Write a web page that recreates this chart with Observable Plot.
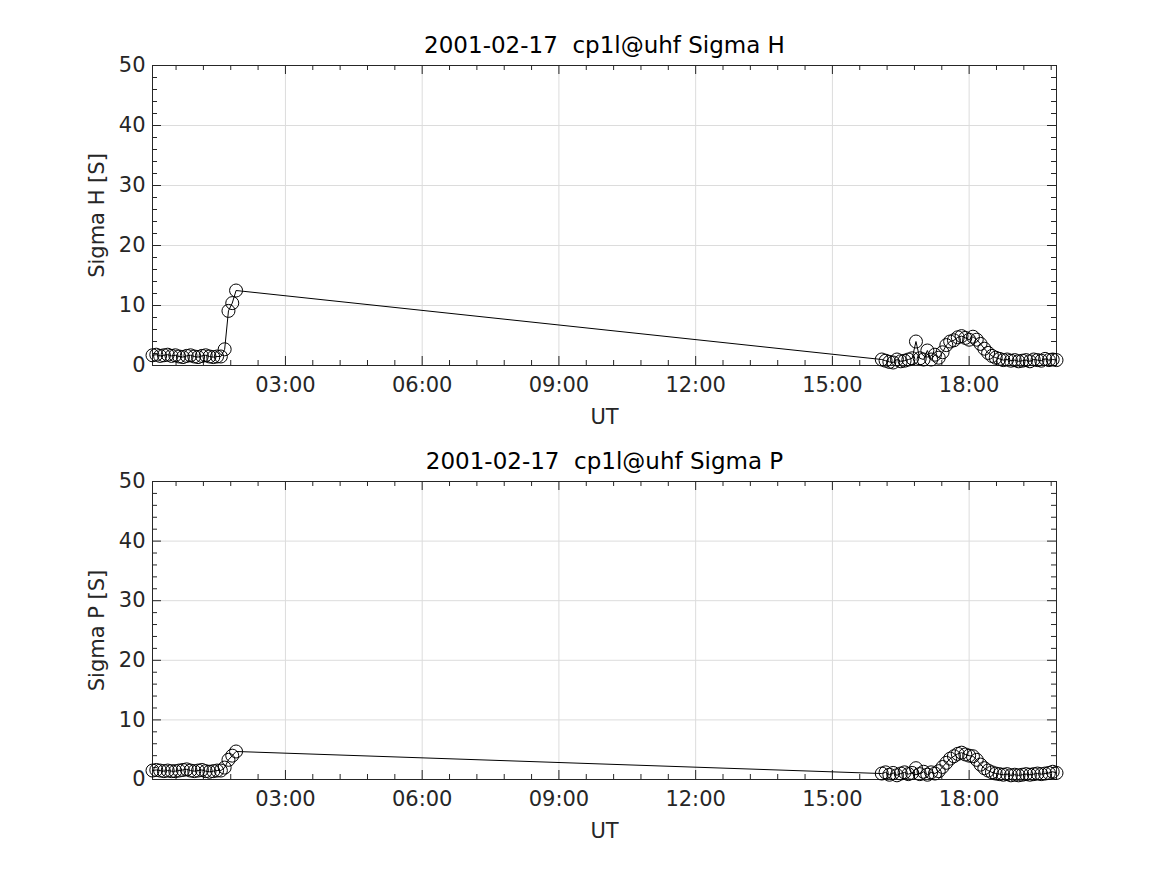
<!DOCTYPE html>
<html><head><meta charset="utf-8">
<script src="https://cdn.jsdelivr.net/npm/d3@7"></script>
<script src="https://cdn.jsdelivr.net/npm/@observablehq/plot@0.6"></script>
<style>body{margin:0;background:#fff;} #chart svg{display:block;}</style>
</head><body><div id="chart"></div>
<script>
// ---- data ----
const times = [
  "00:05","00:10","00:15","00:20","00:25","00:30","00:35","00:40","00:45","00:50","00:55","01:00",
  "01:05","01:10","01:15","01:20","01:25","01:30","01:35","01:40","01:45","01:50","01:55",
  "16:05","16:10","16:15","16:20","16:25","16:30","16:35","16:40","16:45","16:50","16:55","17:00",
  "17:05","17:10","17:15","17:20","17:25","17:30","17:35","17:40","17:45","17:50","17:55","18:00",
  "18:05","18:10","18:15","18:20","18:25","18:30","18:35","18:40","18:45","18:50","18:55","19:00",
  "19:05","19:10","19:15","19:20","19:25","19:30","19:35","19:40","19:45","19:50","19:55"
];
const sigmaH = [
  1.7,1.8,1.6,1.7,1.8,1.6,1.7,1.5,1.4,1.6,1.7,1.5,
  1.4,1.6,1.7,1.5,1.4,1.5,1.5,2.7,9.1,10.4,12.5,
  1.0,0.8,0.6,0.5,1.0,0.7,0.8,1.0,1.2,4.0,1.2,1.0,
  2.5,1.0,1.8,1.3,2.2,3.4,4.0,4.2,4.7,4.9,4.6,4.3,
  4.8,4.3,3.6,2.8,2.1,1.6,1.3,1.1,0.9,1.0,0.8,0.9,
  0.7,0.8,0.9,0.7,1.0,0.9,0.8,1.1,0.9,1.0,0.9
];
const sigmaP = [
  1.5,1.6,1.5,1.4,1.5,1.4,1.4,1.5,1.6,1.7,1.5,1.4,
  1.5,1.6,1.4,1.3,1.4,1.5,1.5,2.0,3.3,4.0,4.7,
  1.0,1.2,0.8,1.1,0.7,1.0,1.2,0.9,1.1,1.9,0.9,1.3,
  0.8,1.2,1.0,1.4,2.1,2.8,3.5,3.9,4.3,4.5,4.2,4.0,
  3.9,3.3,2.5,1.9,1.5,1.2,1.0,0.9,0.8,0.9,0.7,0.8,
  0.7,0.8,0.9,0.8,0.9,1.0,0.9,1.0,1.1,1.3,1.1
];
const xTickLabels = ["03:00","06:00","09:00","12:00","15:00","18:00"];
const yTicks = [0,10,20,30,40,50];
const titles = ["2001-02-17\u00a0\u00a0cp1l@uhf Sigma H", "2001-02-17\u00a0\u00a0cp1l@uhf Sigma P"];
const yLabels = ["Sigma H [S]", "Sigma P [S]"];
const xLabel = "UT";

// ---- helpers ----
function toHours(s){const [h,m]=s.split(":").map(Number);return h+m/60;}
const xDomain = [toHours(times[0]), toHours(times[times.length-1])];
const xMajor = xTickLabels.map(toHours);
const xMinor = d3.range(1,34).filter(k=>k%5!==0).map(k=>k*0.6);
const yMinor = d3.range(2,50,2).filter(v=>v%10!==0);
const ink = "#262626";
const FS = 21;

function panel(values, title, ylabel, height, mt, mb) {
  const W = 1167, ml = 152, mr = 111;
  const iw = W-ml-mr, ih = height-mt-mb;
  const data = times.map((t,i)=>({x: toHours(t), y: values[i]}));
  const MJ = 9, MN = 5;
  return Plot.plot({
    width: W, height, marginLeft: ml, marginRight: mr, marginTop: mt, marginBottom: mb,
    style: {fontFamily: "DejaVu Sans", fontSize: FS+"px", color: ink, background: "white", overflow: "visible"},
    x: {domain: xDomain},
    y: {domain: [0,50]},
    marks: [
      Plot.gridX(xMajor, {stroke: "#dcdcdc", strokeOpacity: 1}),
      Plot.gridY(yTicks, {stroke: "#dcdcdc", strokeOpacity: 1}),
      // x ticks bottom & top
      Plot.tickX(xMajor, {x: d=>d, insetTop: ih-MJ, stroke: ink}),
      Plot.tickX(xMajor, {x: d=>d, insetBottom: ih-MJ, stroke: ink}),
      Plot.tickX(xMinor, {x: d=>d, insetTop: ih-MN, stroke: ink}),
      Plot.tickX(xMinor, {x: d=>d, insetBottom: ih-MN, stroke: ink}),
      // y ticks left & right
      Plot.tickY(yTicks, {y: d=>d, insetRight: iw-MJ, stroke: ink}),
      Plot.tickY(yTicks, {y: d=>d, insetLeft: iw-MJ, stroke: ink}),
      Plot.tickY(yMinor, {y: d=>d, insetRight: iw-MN, stroke: ink}),
      Plot.tickY(yMinor, {y: d=>d, insetLeft: iw-MN, stroke: ink}),
      Plot.axisX(xMajor, {tickSize: 0, tickPadding: 12, label: null,
        tickFormat: d => xTickLabels[xMajor.indexOf(d)], fontSize: FS}),
      Plot.axisY(yTicks, {tickSize: 0, tickPadding: 7, label: null, fontSize: FS}),
      Plot.frame({stroke: ink, strokeWidth: 1}),
      Plot.line(data, {x: "x", y: "y", stroke: "black", strokeWidth: 1}),
      Plot.dot(data, {x: "x", y: "y", r: 6.5, stroke: "black", fill: "none", strokeWidth: 1}),
      Plot.text([title], {text: d=>d, frameAnchor: "top", lineAnchor: "middle", dy: -20, fill: "black", fontSize: 23}),
      Plot.text([xLabel], {text: d=>d, frameAnchor: "bottom", lineAnchor: "middle", dy: 52, fill: ink, fontSize: FS}),
      Plot.text([ylabel], {text: d=>d, frameAnchor: "left", textAnchor: "middle", lineAnchor: "middle", dx: -55, rotate: -90, fill: ink, fontSize: FS})
    ]
  });
}

const root = document.getElementById("chart");
root.appendChild(panel(sigmaH, titles[0], yLabels[0], 437, 65, 72));
root.appendChild(panel(sigmaP, titles[1], yLabels[1], 438, 44, 96));
</script>
</body></html>
